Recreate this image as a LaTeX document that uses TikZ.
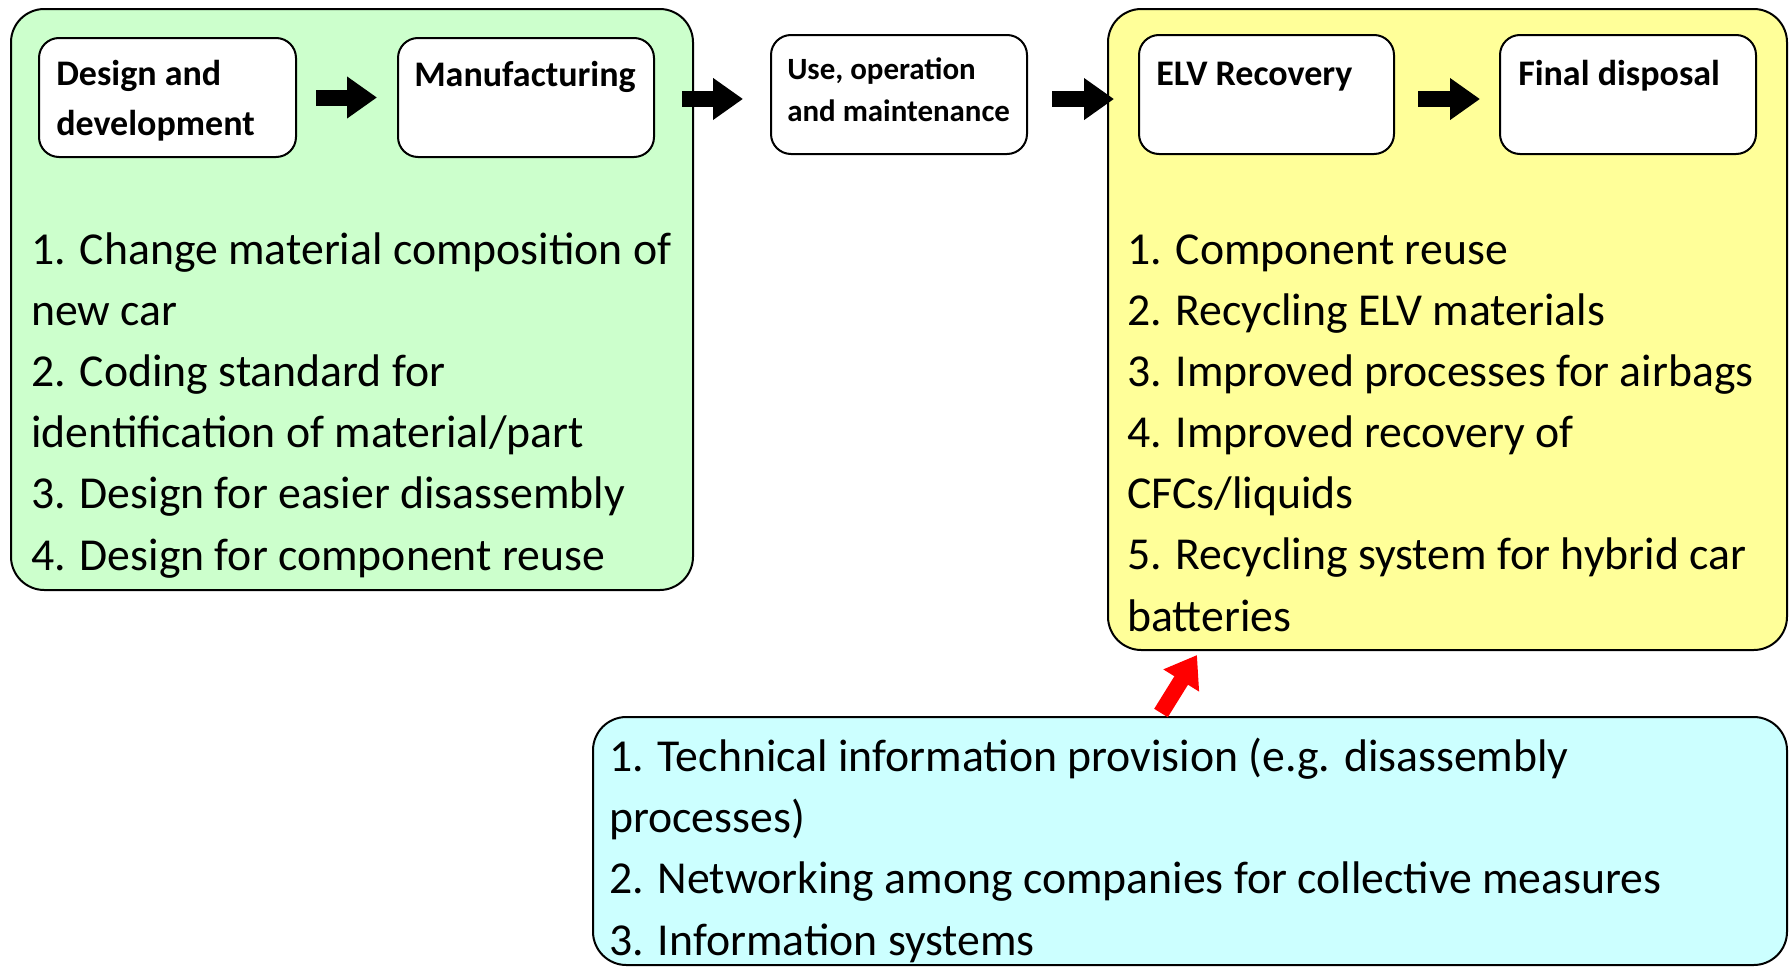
\documentclass[tikz,border=0pt]{standalone}
\usepackage{fontspec}
\setmainfont{Carlito}
\usetikzlibrary{fit,arrows.meta}
\definecolor{greenfill}{HTML}{CCFFCC}
\definecolor{yellowfill}{HTML}{FFFF99}
\definecolor{cyanfill}{HTML}{CCFFFF}
\begin{document}
\begin{tikzpicture}[x=0.75pt,y=-0.75pt,
  bigbox/.style={draw=black, line width=1.5pt, rounded corners=25pt, inner sep=0pt},
  stagebox/.style={draw=black, line width=1.5pt, fill=white, rounded corners=15pt, inner sep=0pt},
  titletext/.style={anchor=base west, align=left, inner sep=0pt, font=\bfseries\fontsize{27}{36.8}\selectfont},
  smalltitle/.style={anchor=base west, align=left, inner sep=0pt, font=\bfseries\fontsize{23.2}{30.8}\selectfont},
  bodytext/.style={anchor=base west, align=left, inner sep=0pt, font=\fontsize{34.3}{45.8}\selectfont},
  blockarrow/.style={line width=12pt, -{Triangle[length=22.5pt,width=30pt]}},
]
\useasboundingbox (0,0) rectangle (1789,967);

% big background boxes
\node[bigbox, fill=greenfill, fit={(11,9) (693,590)}] (green) {};
\node[bigbox, fill=yellowfill, fit={(1108,9) (1787,650)}] (yellow) {};
\node[bigbox, fill=cyanfill, fit={(593,717) (1787,965)}] (cyan) {};

% stage boxes
\node[stagebox, fit={(39,38) (296,157)}] (design) {};
\node[stagebox, fit={(398,38) (654,157)}] (manuf) {};
\node[stagebox, fit={(771,35) (1027,154)}] (use) {};
\node[stagebox, fit={(1139,35) (1394,154)}] (elv) {};
\node[stagebox, fit={(1500,35) (1756,154)}] (final) {};

% stage titles (anchor = baseline of last line)
\node[titletext] (designtxt) at (56,135) {Design and\\development};
\node[titletext] (manuftxt) at (414,86) {Manufacturing};
\node[smalltitle] (usetxt) at (787,121) {Use, operation\\and maintenance};
\node[titletext] (elvtxt) at (1156,85) {ELV Recovery};
\node[titletext] (finaltxt) at (1518,85) {Final disposal};

% lists (anchor = baseline of last line)
\node[bodytext] (greenlist) at (31,570) {1. Change material composition of\\new car\\2. Coding standard for\\identification of material/part\\3. Design for easier disassembly\\4. Design for component reuse};
\node[bodytext] (yellowlist) at (1127,631) {1. Component reuse\\2. Recycling ELV materials\\3. Improved processes for airbags\\4. Improved recovery of\\CFCs/liquids\\5. Recycling system for hybrid car\\batteries};
\node[bodytext] (cyanlist) at (609,955) {1. Technical information provision (e.g. disassembly\\processes)\\2. Networking among companies for collective measures\\3. Information systems};

% flow arrows
\draw[blockarrow, shorten <=14.25pt, shorten >=15pt] (design.east) -- (manuf.west);
\draw[blockarrow, shorten <=20.25pt, shorten >=20.25pt] ([yshift=-1.1pt]manuf.east) -- ([yshift=-1.1pt]manuf.east -| use.west);
\draw[blockarrow, shorten <=18pt, shorten >=18pt] ([yshift=-3.4pt]use.east) -- ([yshift=-3.4pt]elv.west);
\draw[blockarrow, shorten <=17.25pt, shorten >=14.25pt] ([yshift=-3.4pt]elv.east) -- ([yshift=-3.4pt]final.west);

% feedback arrow
\coordinate (redtail) at (1161,713);
\coordinate (redhead) at (1197,655);
\draw[blockarrow, red] (redtail) -- (redhead);
\end{tikzpicture}
\end{document}
